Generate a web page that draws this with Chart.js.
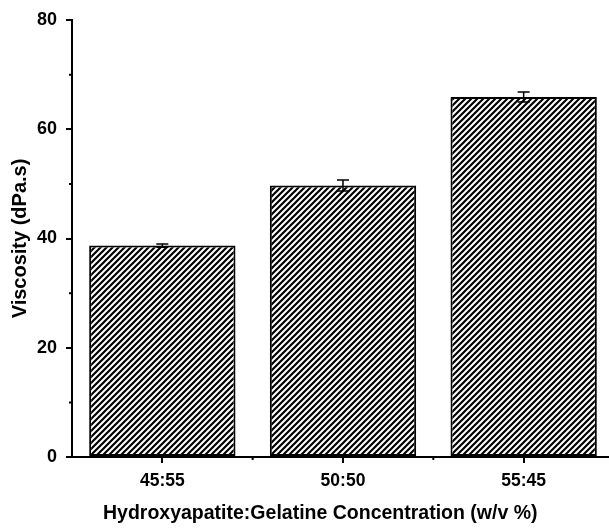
<!DOCTYPE html>
<html>
<head>
<meta charset="utf-8">
<script src="https://cdn.jsdelivr.net/npm/chart.js@4.4.0/dist/chart.umd.min.js"></script>
<style>
  html, body { margin: 0; padding: 0; background: #fff; overflow: hidden; width: 609px; height: 528px; }
  canvas { display: block; }
</style>
</head>
<body>
<canvas id="viscosity-chart" width="614" height="528"></canvas>
<script>
// Data
const categories = ['45:55', '50:50', '55:45'];
const viscosity = [38.7, 49.7, 65.9];
const viscosityErr = [0.3, 1.0, 0.9];
const yMinorTicks = [10, 30, 50, 70];
const xMinorTicks = [0.5, 1.5];

const FONT = 'Liberation Sans, Arial, sans-serif';
const X_TITLE = 'Hydroxyapatite:Gelatine Concentration (w/v %)';

// Diagonal hatch fill
function makeHatch() {
    const c = document.createElement('canvas');
    c.width = 6;
    c.height = 6;
    const g = c.getContext('2d');
    g.fillStyle = '#fff';
    g.fillRect(0, 0, 6, 6);
    g.strokeStyle = '#000';
    g.lineWidth = 2.2;
    g.beginPath();
    g.moveTo(-1, 7); g.lineTo(7, -1);
    g.moveTo(-1, 1); g.lineTo(1, -1);
    g.moveTo(5, 7); g.lineTo(7, 5);
    g.stroke();
    return g.createPattern(c, 'repeat');
}

// Error bars, minor ticks and x title
const extrasPlugin = {
    id: 'extras',
    afterDatasetsDraw(chart) {
        const ctx = chart.ctx;
        const y = chart.scales.y;
        const meta = chart.getDatasetMeta(0);
        ctx.save();
        ctx.strokeStyle = '#000';
        ctx.lineWidth = 1.5;
        meta.data.forEach((bar, i) => {
            const top = y.getPixelForValue(viscosity[i] + viscosityErr[i]);
            const bot = y.getPixelForValue(viscosity[i] - viscosityErr[i]);
            ctx.beginPath();
            ctx.moveTo(bar.x, top); ctx.lineTo(bar.x, bot);
            ctx.moveTo(bar.x - 6, top); ctx.lineTo(bar.x + 6, top);
            ctx.moveTo(bar.x - 6, bot); ctx.lineTo(bar.x + 6, bot);
            ctx.stroke();
        });
        ctx.restore();
    },
    afterDraw(chart) {
        const ctx = chart.ctx;
        const { x, y } = chart.scales;
        const area = chart.chartArea;
        ctx.save();
        ctx.strokeStyle = '#000';
        ctx.lineWidth = 2;
        ctx.beginPath();
        yMinorTicks.forEach(v => {
            const py = y.getPixelForValue(v);
            ctx.moveTo(area.left - 3, py); ctx.lineTo(area.left, py);
        });
        xMinorTicks.forEach(v => {
            const px = x.getPixelForValue(v);
            ctx.moveTo(px, area.bottom); ctx.lineTo(px, area.bottom + 3);
        });
        ctx.stroke();

        ctx.fillStyle = '#000';
        ctx.font = 'bold 19.5px ' + FONT;
        ctx.textAlign = 'center';
        ctx.textBaseline = 'middle';
        ctx.fillText(X_TITLE, area.left + (area.right - area.left) * 0.458, 514);
        ctx.restore();
    }
};

new Chart(document.getElementById('viscosity-chart'), {
    type: 'bar',
    data: {
        labels: categories,
        datasets: [{
            data: viscosity,
            backgroundColor: makeHatch(),
            borderColor: '#000',
            borderWidth: 2,
            borderSkipped: false,
            categoryPercentage: 1,
            barPercentage: 0.81
        }]
    },
    options: {
        responsive: false,
        animation: false,
        layout: { padding: { top: 20, right: 0, left: 0, bottom: 0 } },
        plugins: {
            legend: { display: false },
            tooltip: { enabled: false }
        },
        scales: {
            x: {
                offset: true,
                border: { color: '#000', width: 2 },
                grid: { offset: false, drawOnChartArea: false, color: '#000', lineWidth: 2, tickLength: 6 },
                ticks: { color: '#000', font: { family: FONT, size: 17.5, weight: 'bold' }, padding: 8 },
                afterFit: s => { s.height = 71; }
            },
            y: {
                min: 0,
                max: 80,
                border: { color: '#000', width: 2 },
                grid: { drawOnChartArea: false, color: '#000', lineWidth: 2, tickLength: 6 },
                ticks: { stepSize: 20, color: '#000', font: { family: FONT, size: 18, weight: 'bold' }, padding: 9 },
                title: {
                    display: true,
                    text: 'Viscosity (dPa.s)',
                    color: '#000',
                    font: { family: FONT, size: 20, weight: 'bold' },
                    padding: { top: 8, bottom: 6 }
                },
                afterFit: s => { s.width = 72; }
            }
        }
    },
    plugins: [extrasPlugin]
});
</script>
</body>
</html>
